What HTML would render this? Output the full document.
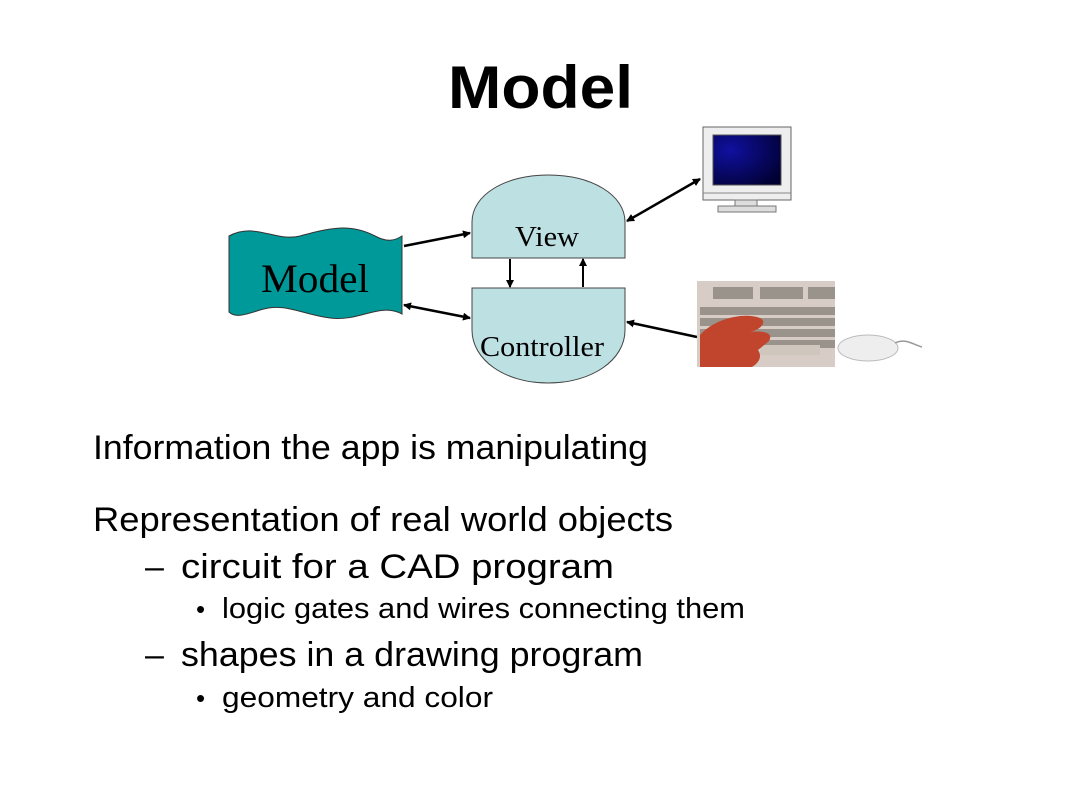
<!DOCTYPE html>
<html><head><meta charset="utf-8"><style>
html,body{margin:0;padding:0;background:#fff;}
svg{display:block;}
</style></head><body>
<svg width="1080" height="810" viewBox="0 0 1080 810" xmlns="http://www.w3.org/2000/svg">
<defs>
<marker id="ah" markerWidth="8" markerHeight="8" refX="7" refY="4" orient="auto-start-reverse" markerUnits="userSpaceOnUse">
<path d="M0,0 L8,4 L0,8 z" fill="#000"/></marker>
<radialGradient id="scr" cx="0.25" cy="0.3" r="0.9"><stop offset="0" stop-color="#1010a0"/><stop offset="1" stop-color="#000030"/></radialGradient>
</defs>
<rect width="1080" height="810" fill="#fff"/>
<text x="448" y="108" font-family="Liberation Sans, sans-serif" font-weight="bold" font-size="60" textLength="185" lengthAdjust="spacingAndGlyphs">Model</text>

<path d="M229,236 C255,222 275,242 300,236 C330,228 350,223 375,236 C388,243 396,240 402,236 L402,314 C380,302 360,322 330,318 C300,314 285,302 260,310 C245,315 235,318 229,312 Z" fill="#009999" stroke="#333" stroke-width="1"/>
<text x="315" y="292" text-anchor="middle" font-family="Liberation Serif, serif" font-size="40" textLength="108" lengthAdjust="spacingAndGlyphs">Model</text>

<path d="M472,258 L472,222 C472,195 505,175 548,175 C592,175 625,195 625,222 L625,258 Z" fill="#bde0e3" stroke="#444" stroke-width="1"/>
<text x="547" y="246" text-anchor="middle" font-family="Liberation Serif, serif" font-size="28" textLength="64" lengthAdjust="spacingAndGlyphs">View</text>
<path d="M472,288 L625,288 L625,330 C625,360 592,383 548,383 C505,383 472,360 472,330 Z" fill="#bde0e3" stroke="#444" stroke-width="1"/>
<text x="542" y="356" text-anchor="middle" font-family="Liberation Serif, serif" font-size="28" textLength="124" lengthAdjust="spacingAndGlyphs">Controller</text>

<g stroke="#000" stroke-width="2.5" fill="none">
<line x1="404" y1="246" x2="470" y2="233" marker-end="url(#ah)"/>
<line x1="404" y1="305" x2="470" y2="318" marker-start="url(#ah)" marker-end="url(#ah)"/>
<line x1="627" y1="221" x2="700" y2="179" marker-start="url(#ah)" marker-end="url(#ah)"/>
<line x1="697" y1="337" x2="627" y2="322" marker-end="url(#ah)"/>
<line x1="510" y1="259" x2="510" y2="287" marker-end="url(#ah)" stroke-width="2"/>
<line x1="583" y1="287" x2="583" y2="259" marker-end="url(#ah)" stroke-width="2"/>
</g>

<rect x="703" y="127" width="88" height="73" fill="#eee" stroke="#666"/>
<rect x="713" y="135" width="68" height="50" fill="url(#scr)" stroke="#555"/>
<line x1="703" y1="193" x2="791" y2="193" stroke="#888"/>
<rect x="735" y="200" width="22" height="6" fill="#ddd" stroke="#777"/>
<rect x="718" y="206" width="58" height="6" fill="#ddd" stroke="#777"/>
<rect x="697" y="281" width="138" height="86" fill="#d8cdc6"/>
<g fill="#9a938c">
<rect x="713" y="287" width="40" height="12"/><rect x="760" y="287" width="43" height="12"/><rect x="808" y="287" width="27" height="12"/>
<rect x="700" y="307" width="135" height="8"/><rect x="700" y="318" width="135" height="8"/><rect x="700" y="329" width="135" height="8"/><rect x="700" y="340" width="135" height="8"/>
</g>
<rect x="760" y="345" width="60" height="10" fill="#cfc6bd"/>
<path d="M700,367 L700,335 C715,318 745,312 760,318 C768,322 760,330 750,332 C765,330 775,334 768,342 L758,350 C762,356 760,362 752,367 Z" fill="#c0452c"/>
<ellipse cx="868" cy="348" rx="30" ry="13" fill="#eee" stroke="#bbb"/>
<path d="M895,343 C905,338 912,344 922,347" stroke="#999" fill="none" stroke-width="1.5"/>

<g font-family="Liberation Sans, sans-serif" fill="#000">
<text x="93" y="459" font-size="34" textLength="555" lengthAdjust="spacingAndGlyphs">Information the app is manipulating</text>
<text x="93" y="531" font-size="34" textLength="580" lengthAdjust="spacingAndGlyphs">Representation of real world objects</text>
<text x="145" y="578" font-size="34">–</text>
<text x="181" y="578" font-size="34" textLength="433" lengthAdjust="spacingAndGlyphs">circuit for a CAD program</text>
<text x="196" y="618" font-size="26">•</text>
<text x="222" y="618" font-size="29" textLength="523" lengthAdjust="spacingAndGlyphs">logic gates and wires connecting them</text>
<text x="145" y="666" font-size="34">–</text>
<text x="181" y="666" font-size="34" textLength="462" lengthAdjust="spacingAndGlyphs">shapes in a drawing program</text>
<text x="196" y="707" font-size="26">•</text>
<text x="222" y="707" font-size="29" textLength="271" lengthAdjust="spacingAndGlyphs">geometry and color</text>
</g>
</svg>
</body></html>
